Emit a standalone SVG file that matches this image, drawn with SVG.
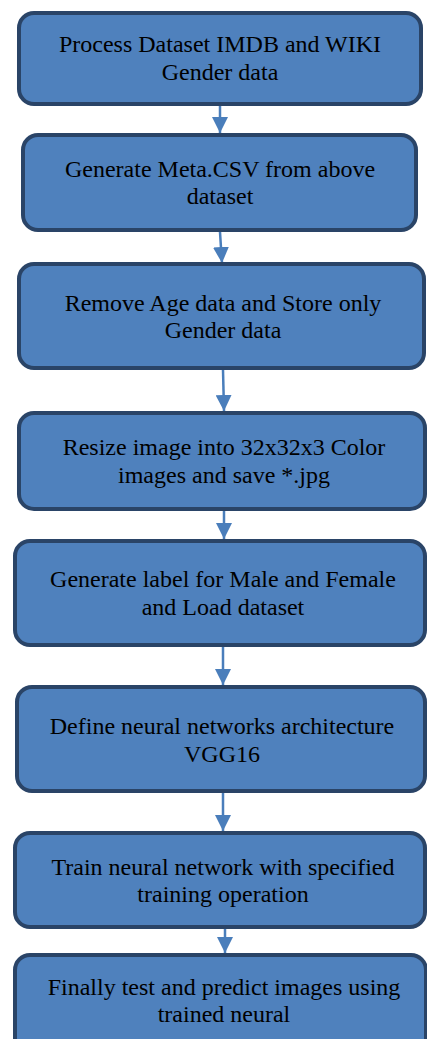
<svg xmlns="http://www.w3.org/2000/svg" width="427" height="1039" viewBox="0 0 427 1039">
<style>
.box{fill:#4F81BD;stroke:#2A4467;stroke-width:4}
.lbl{font-size:24px;fill:#000;text-anchor:middle}
.conn{stroke:#4A7EBB;stroke-width:2.5;fill:none}
</style>
<defs>
<marker id="ah" viewBox="0 0 16 16" refX="16" refY="8" markerWidth="16" markerHeight="16" markerUnits="userSpaceOnUse" orient="auto">
<path d="M0,0 L16,8 L0,16 z" fill="#4A7EBB"/>
</marker>
</defs>
<rect width="427" height="1039" fill="#fff"/>
<g id="connectors">
<line class="conn" x1="220" y1="106" x2="220" y2="133" marker-end="url(#ah)"/>
<line class="conn" x1="220" y1="232" x2="222" y2="263" marker-end="url(#ah)"/>
<line class="conn" x1="223" y1="370" x2="224" y2="411" marker-end="url(#ah)"/>
<line class="conn" x1="224" y1="511" x2="224" y2="539" marker-end="url(#ah)"/>
<line class="conn" x1="223" y1="647" x2="223" y2="685" marker-end="url(#ah)"/>
<line class="conn" x1="223" y1="793" x2="223" y2="831" marker-end="url(#ah)"/>
<line class="conn" x1="225" y1="929" x2="225" y2="953" marker-end="url(#ah)"/>
</g>
<g font-family="'Liberation Serif', 'Times New Roman', 'DejaVu Serif', serif">
<g id="n1">
<rect class="box" x="19" y="13" width="402" height="91" rx="15"/>
<text class="lbl" x="220" y="52">Process Dataset IMDB and WIKI</text>
<text class="lbl" x="220" y="80">Gender data</text>
</g>
<g id="n2">
<rect class="box" x="23" y="135" width="393" height="95" rx="15"/>
<text class="lbl" x="220" y="177">Generate Meta.CSV from above</text>
<text class="lbl" x="220" y="204">dataset</text>
</g>
<g id="n3">
<rect class="box" x="19" y="264" width="405" height="104" rx="15"/>
<text class="lbl" x="223" y="311">Remove Age data and Store only</text>
<text class="lbl" x="223" y="338">Gender data</text>
</g>
<g id="n4">
<rect class="box" x="19" y="413" width="406" height="96" rx="15"/>
<text class="lbl" x="224" y="455">Resize image into 32x32x3 Color</text>
<text class="lbl" x="224" y="483">images and save *.jpg</text>
</g>
<g id="n5">
<rect class="box" x="15" y="541" width="410" height="104" rx="15"/>
<text class="lbl" x="223" y="587">Generate label for Male and Female</text>
<text class="lbl" x="223" y="615">and Load dataset</text>
</g>
<g id="n6">
<rect class="box" x="17" y="687" width="408" height="104" rx="15"/>
<text class="lbl" x="222" y="734">Define neural networks architecture</text>
<text class="lbl" x="222" y="762">VGG16</text>
</g>
<g id="n7">
<rect class="box" x="15" y="833" width="410" height="94" rx="15"/>
<text class="lbl" x="223" y="875">Train neural network with specified</text>
<text class="lbl" x="223" y="902">training operation</text>
</g>
<g id="n8">
<rect class="box" x="15" y="955" width="411" height="105" rx="15"/>
<text class="lbl" x="224" y="995">Finally test and predict images using</text>
<text class="lbl" x="224" y="1022">trained neural</text>
</g>
</g>
</svg>
